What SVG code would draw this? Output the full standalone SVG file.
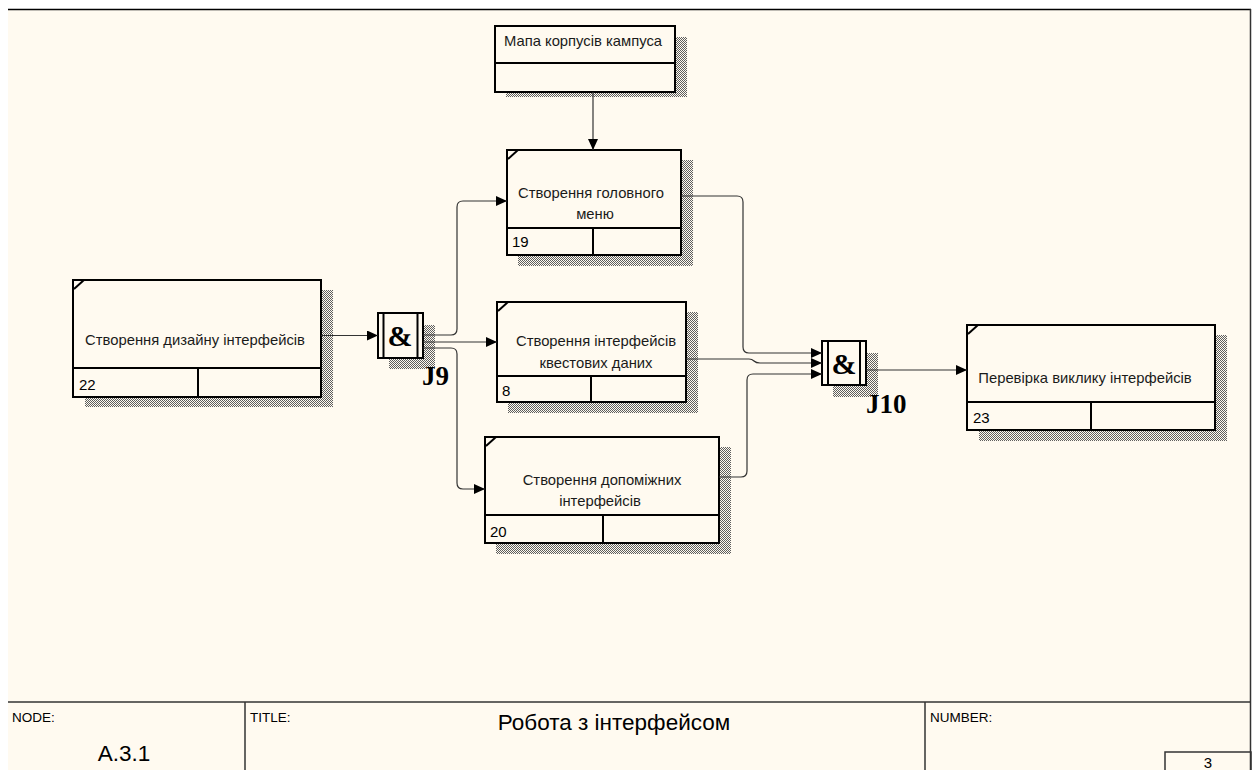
<svg xmlns="http://www.w3.org/2000/svg" width="1253" height="770" viewBox="0 0 1253 770">
  <defs>
    <!-- dithered drop shadow fill -->
    <pattern id="dither" width="2" height="2" patternUnits="userSpaceOnUse">
      <rect x="0" y="0" width="1" height="1" fill="#5e5e5e"/>
      <rect x="1" y="1" width="1" height="1" fill="#5e5e5e"/>
    </pattern>
    <marker id="arrow" markerWidth="12" markerHeight="10" refX="11" refY="5" orient="auto" markerUnits="userSpaceOnUse">
      <path d="M0,0 L11,5 L0,10 Z" fill="#000"/>
    </marker>
    <style>
      .box { fill: #fffaf0; stroke: #000; stroke-width: 2; }
      .div { stroke: #000; stroke-width: 2; fill: none; }
      .corner { stroke: #000; stroke-width: 2; }
      .shadow { fill: url(#dither); }
      .lbl { font-family: "Liberation Sans", Arial, sans-serif; font-size: 14.8px; fill: #1a1a1a; }
      .num { font-family: "Liberation Sans", Arial, sans-serif; font-size: 15px; fill: #000; }
      .amp { font-family: "Liberation Serif", "Times New Roman", serif; font-size: 30px; font-weight: bold; fill: #000; }
      .jl { font-family: "Liberation Serif", "Times New Roman", serif; font-size: 27px; font-weight: bold; fill: #000; }
      .conn { fill: none; stroke: #333; stroke-width: 1.2; }
      .frame { stroke: #333; stroke-width: 1.5; fill: none; }
      .small { font-family: "Liberation Sans", Arial, sans-serif; font-size: 13.5px; fill: #000; }
      .big { font-family: "Liberation Sans", Arial, sans-serif; font-size: 22.5px; fill: #000; }
    </style>
  </defs>

  <!-- page -->
  <rect x="0" y="0" width="1253" height="770" fill="#ffffff"/>
  <rect x="8" y="10" width="1243" height="760" fill="#fffaf0"/>
  <line x1="8" y1="9.5" x2="1251" y2="9.5" stroke="#000" stroke-width="1.5"/>
  <line x1="1250.5" y1="9" x2="1250.5" y2="770" stroke="#333" stroke-width="1.5"/>

  <!-- arrow source box: campus map -->
  <g id="map">
    <rect class="shadow" x="506" y="37" width="181" height="60"/>
    <rect class="box" x="495" y="26" width="180" height="66"/>
    <line class="div" x1="495" y1="63" x2="675" y2="63"/>
    <text class="lbl" x="583" y="46" text-anchor="middle">Мапа корпусів кампуса</text>
  </g>

  <!-- activity 22 -->
  <g id="node22">
    <rect class="shadow" x="85" y="290" width="248" height="117"/>
    <rect class="box" x="73" y="280" width="248" height="117"/>
    <line class="div" x1="73" y1="368" x2="321" y2="368"/>
    <line class="div" x1="198" y1="368" x2="198" y2="397"/>
    <line class="corner" x1="74" y1="289" x2="84" y2="280"/>
    <text class="lbl" x="195" y="345" text-anchor="middle">Створення дизайну інтерфейсів</text>
    <text class="num" x="79" y="390">22</text>
  </g>

  <!-- activity 19 -->
  <g id="node19">
    <rect class="shadow" x="518" y="160" width="175" height="106"/>
    <rect class="box" x="507" y="150" width="174" height="105"/>
    <line class="div" x1="507" y1="228" x2="681" y2="228"/>
    <line class="div" x1="593" y1="228" x2="593" y2="255"/>
    <line class="corner" x1="508" y1="159" x2="518" y2="150"/>
    <text class="lbl" x="591" y="198" text-anchor="middle">Створення головного</text>
    <text class="lbl" x="595" y="219" text-anchor="middle">меню</text>
    <text class="num" x="512" y="247">19</text>
  </g>

  <!-- activity 8 -->
  <g id="node8">
    <rect class="shadow" x="508" y="312" width="190" height="101"/>
    <rect class="box" x="497" y="302" width="189" height="100"/>
    <line class="div" x1="497" y1="376" x2="686" y2="376"/>
    <line class="div" x1="591" y1="376" x2="591" y2="402"/>
    <line class="corner" x1="498" y1="311" x2="508" y2="302"/>
    <text class="lbl" x="596" y="346" text-anchor="middle">Створення інтерфейсів</text>
    <text class="lbl" x="596" y="368" text-anchor="middle">квестових даних</text>
    <text class="num" x="502" y="396">8</text>
  </g>

  <!-- activity 20 -->
  <g id="node20">
    <rect class="shadow" x="496" y="447" width="235" height="107"/>
    <rect class="box" x="485" y="437" width="234" height="106"/>
    <line class="div" x1="485" y1="515" x2="719" y2="515"/>
    <line class="div" x1="603" y1="515" x2="603" y2="543"/>
    <line class="corner" x1="486" y1="446" x2="496" y2="437"/>
    <text class="lbl" x="602" y="485" text-anchor="middle">Створення допоміжних</text>
    <text class="lbl" x="600" y="506" text-anchor="middle">інтерфейсів</text>
    <text class="num" x="490" y="537">20</text>
  </g>

  <!-- activity 23 -->
  <g id="node23">
    <rect class="shadow" x="979" y="335" width="248" height="106"/>
    <rect class="box" x="967" y="325" width="248" height="105"/>
    <line class="div" x1="967" y1="402" x2="1215" y2="402"/>
    <line class="div" x1="1091" y1="402" x2="1091" y2="430"/>
    <line class="corner" x1="968" y1="334" x2="978" y2="325"/>
    <text class="lbl" x="1085" y="383" text-anchor="middle">Перевірка виклику інтерфейсів</text>
    <text class="num" x="973" y="423">23</text>
  </g>

  <!-- junction J9 -->
  <g id="J9">
    <rect class="shadow" x="389" y="325" width="46" height="44"/>
    <rect class="box" x="378" y="313" width="45" height="45"/>
    <line class="div" x1="383.5" y1="313" x2="383.5" y2="358"/>
    <line class="div" x1="417.5" y1="313" x2="417.5" y2="358"/>
    <text class="amp" x="400" y="346" text-anchor="middle">&amp;</text>
    <text class="jl" x="422" y="385">J9</text>
  </g>

  <!-- junction J10 -->
  <g id="J10">
    <rect class="shadow" x="833" y="353" width="45" height="44"/>
    <rect class="box" x="822" y="341" width="44" height="44"/>
    <line class="div" x1="828" y1="341" x2="828" y2="385"/>
    <line class="div" x1="860" y1="341" x2="860" y2="385"/>
    <text class="amp" x="844" y="374" text-anchor="middle">&amp;</text>
    <text class="jl" x="866" y="413">J10</text>
  </g>

  <!-- connectors -->
  <g id="connectors">
    <path class="conn" d="M593,92 V150" marker-end="url(#arrow)"/>
    <path class="conn" d="M321,335.5 H378" marker-end="url(#arrow)"/>
    <path class="conn" d="M423,335 H451 Q457,335 457,329 V207 Q457,201 463,201 H507" marker-end="url(#arrow)"/>
    <path class="conn" d="M423,342 H497" marker-end="url(#arrow)"/>
    <path class="conn" d="M423,348 H451 Q457,348 457,354 V483 Q457,489 463,489 H485" marker-end="url(#arrow)"/>
    <path class="conn" d="M681,196 H737 Q743,196 743,202 V347 Q743,353 749,353 H822" marker-end="url(#arrow)"/>
    <path class="conn" d="M686,359 H749 Q752,359 754,361 Q756,363 760,363 H822" marker-end="url(#arrow)"/>
    <path class="conn" d="M719,477 H741 Q747,477 747,471 V380 Q747,374 753,374 H822" marker-end="url(#arrow)"/>
    <path class="conn" d="M866,370 H967" marker-end="url(#arrow)"/>
  </g>

  <!-- title block -->
  <g id="titleblock">
    <line class="frame" x1="8" y1="702" x2="1251" y2="702"/>
    <line class="frame" x1="245" y1="702" x2="245" y2="770"/>
    <line class="frame" x1="925" y1="702" x2="925" y2="770"/>
    <rect class="frame" x="1165" y="752" width="86" height="20"/>
    <text class="small" x="12" y="722">NODE:</text>
    <text class="big" x="124" y="761" text-anchor="middle">A.3.1</text>
    <text class="small" x="250" y="722">TITLE:</text>
    <text class="big" x="614" y="730" text-anchor="middle">Робота з інтерфейсом</text>
    <text class="small" x="930" y="722">NUMBER:</text>
    <text class="num" x="1208" y="768" text-anchor="middle">3</text>
  </g>
</svg>
